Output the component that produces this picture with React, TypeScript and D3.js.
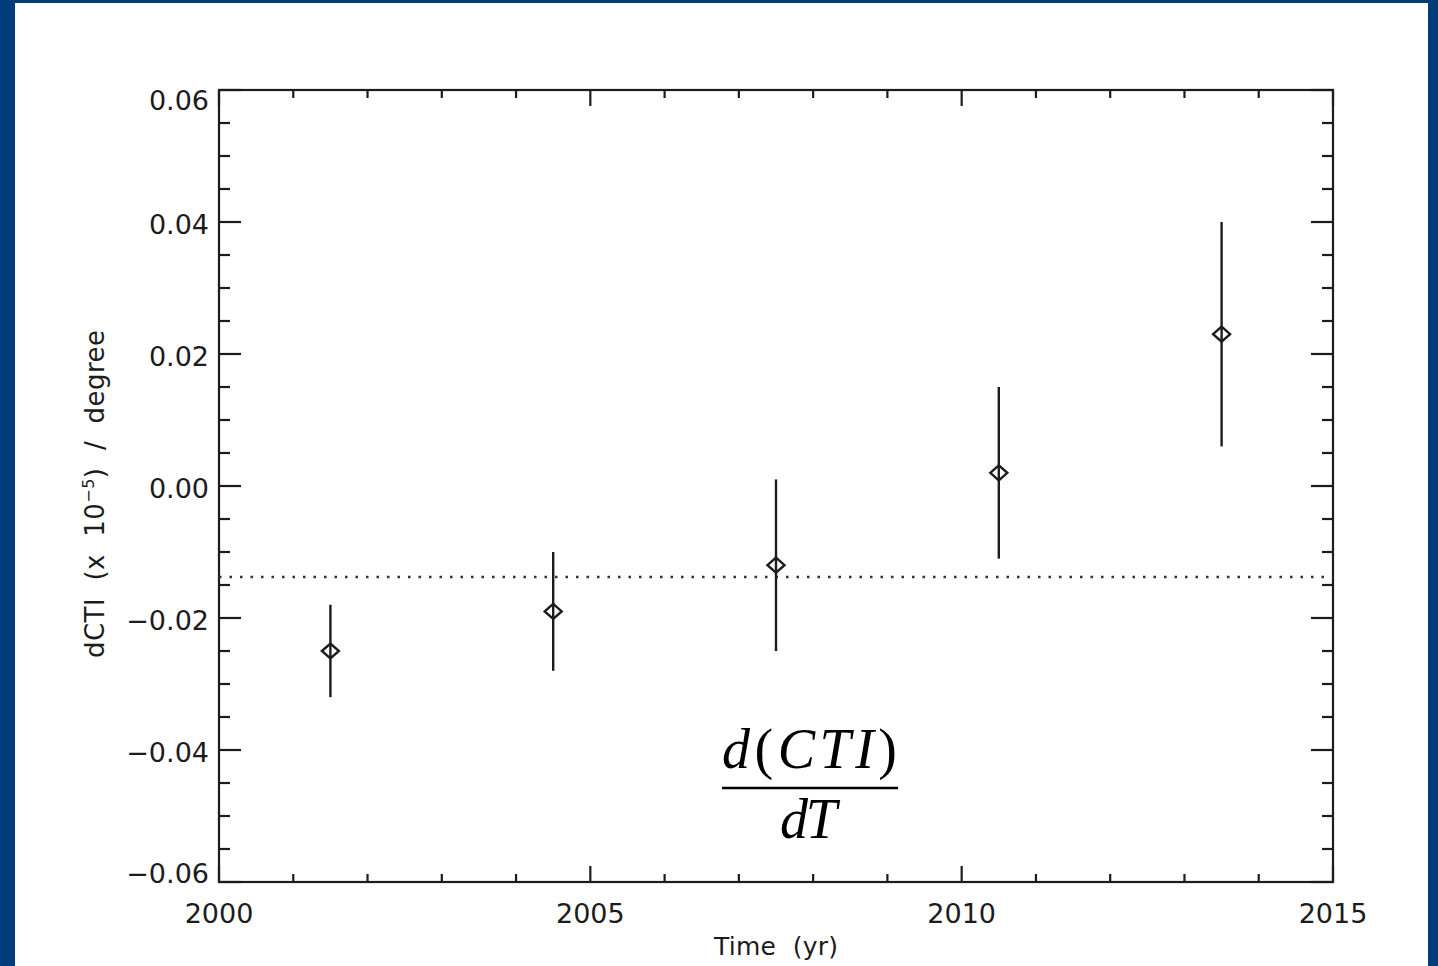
import React from "react";
import * as d3 from "d3";

const years = [2001.5, 2004.5, 2007.5, 2010.5, 2013.5];
const values = [-0.025, -0.019, -0.012, 0.002, 0.023];
const errLow = [-0.032, -0.028, -0.025, -0.011, 0.006];
const errHigh = [-0.018, -0.010, 0.001, 0.015, 0.040];
const meanLevel = -0.0138;

const xMajorTicks = [2000, 2005, 2010, 2015];
const xTickLabels = ["2000", "2005", "2010", "2015"];
const yMajorTicks = [-0.06, -0.04, -0.02, 0.0, 0.02, 0.04, 0.06];
const yTickLabels = ["\u22120.06", "\u22120.04", "\u22120.02", "0.00", "0.02", "0.04", "0.06"];
const xDomain = [2000, 2015];
const yDomain = [-0.06, 0.06];

const W = 1438;
const H = 966;
const L = 219, R = 1333, T = 90, B = 882;
const BLUE = "#033c7b";
const INK = "#1c1c1c";

export default function App() {
  const x = d3.scaleLinear().domain(xDomain).range([L, R]);
  const y = d3.scaleLinear().domain(yDomain).range([B, T]);

  const xMinor = d3.range(xDomain[0], xDomain[1] + 0.001, 1).filter(v => !xMajorTicks.includes(v));
  const yMinor = d3.range(0, 25).map(i => yDomain[0] + i * 0.005).filter(v => !yMajorTicks.some(m => Math.abs(m - v) < 1e-9));

  const xMajLen = 16, xMinLen = 8, yMajLen = 22, yMinLen = 11;
  const font = "'DejaVu Sans', sans-serif";
  const labY = (v: number) => Math.max(T + 10, Math.min(B - 9, y(v) + 2));

  return (
    <svg width={W} height={H} style={{ position: "absolute", left: 0, top: 0, background: "#fff" }}>
      <rect x={0} y={0} width={W} height={H} fill="#fff" />
      <rect x={0} y={0} width={15} height={H} fill={BLUE} />
      <rect x={0} y={0} width={W} height={3} fill={BLUE} />
      <rect x={1428} y={0} width={10} height={H} fill={BLUE} />

      <g stroke={INK} strokeWidth={2.2} fill="none">
        <rect x={L} y={T} width={R - L} height={B - T} />
        {xMajorTicks.map(v => (
          <g key={"xM" + v}>
            <line x1={x(v)} x2={x(v)} y1={B} y2={B - xMajLen} />
            <line x1={x(v)} x2={x(v)} y1={T} y2={T + xMajLen} />
          </g>
        ))}
        {xMinor.map(v => (
          <g key={"xm" + v}>
            <line x1={x(v)} x2={x(v)} y1={B} y2={B - xMinLen} />
            <line x1={x(v)} x2={x(v)} y1={T} y2={T + xMinLen} />
          </g>
        ))}
        {yMajorTicks.map(v => (
          <g key={"yM" + v}>
            <line x1={L} x2={L + yMajLen} y1={y(v)} y2={y(v)} />
            <line x1={R} x2={R - yMajLen} y1={y(v)} y2={y(v)} />
          </g>
        ))}
        {yMinor.map(v => (
          <g key={"ym" + v}>
            <line x1={L} x2={L + yMinLen} y1={y(v)} y2={y(v)} />
            <line x1={R} x2={R - yMinLen} y1={y(v)} y2={y(v)} />
          </g>
        ))}
      </g>

      <g fill={INK} fontFamily={font} fontSize={27}>
        {xMajorTicks.map((v, i) => (
          <text key={"xl" + v} x={x(v)} y={923} textAnchor="middle">{xTickLabels[i]}</text>
        ))}
        {yMajorTicks.map((v, i) => (
          <text key={"yl" + v} x={209} y={labY(v)} textAnchor="end" dominantBaseline="central">{yTickLabels[i]}</text>
        ))}
      </g>

      <text x={776} y={955} textAnchor="middle" fontFamily={font} fontSize={25} fill={INK}
        textLength={124} lengthAdjust="spacing" xmlSpace="preserve">{"Time  (yr)"}</text>
      <text transform="translate(104,494) rotate(-90)" textAnchor="middle" fontFamily={font} fontSize={26} fill={INK}
        textLength={328} lengthAdjust="spacing" xmlSpace="preserve">
        {"dCTI  (x  10"}
        <tspan dy={-10} fontSize={16}>{"\u22125"}</tspan>
        <tspan dy={10}>{")  /  degree"}</tspan>
      </text>

      <line x1={L} x2={R} y1={y(meanLevel)} y2={y(meanLevel)} stroke="#333" strokeWidth={2.5}
        strokeDasharray="2.5 8" />

      <g stroke={INK} strokeWidth={2.4} fill="none">
        {years.map((yr, i) => (
          <line key={"e" + i} x1={x(yr)} x2={x(yr)} y1={y(errLow[i])} y2={y(errHigh[i])} />
        ))}
        {years.map((yr, i) => {
          const cx = x(yr), cy = y(values[i]);
          const hw = 8.5, hh = 7.5;
          const p = d3.path();
          p.moveTo(cx - hw, cy);
          p.lineTo(cx, cy - hh);
          p.lineTo(cx + hw, cy);
          p.lineTo(cx, cy + hh);
          p.closePath();
          return <path key={"p" + i} d={p.toString()} fill="#fff" strokeWidth={2.4} />;
        })}
        {years.map((yr, i) => (
          <line key={"e2" + i} x1={x(yr)} x2={x(yr)} y1={y(values[i]) - 7.5} y2={y(values[i]) + 7.5} />
        ))}
      </g>

      <g fill="#000" fontFamily="'Liberation Serif', 'DejaVu Serif', serif" fontSize={56}>
        <text x={722} y={768} textLength={175} lengthAdjust="spacing">
          <tspan fontStyle="italic">d</tspan>
          <tspan>(</tspan>
          <tspan fontStyle="italic">CTI</tspan>
          <tspan>)</tspan>
        </text>
        <line x1={722} x2={898} y1={788} y2={788} stroke="#000" strokeWidth={2.4} />
        <text x={780} y={838} fontStyle="italic" textLength={57} lengthAdjust="spacing">dT</text>
      </g>
    </svg>
  );
}
